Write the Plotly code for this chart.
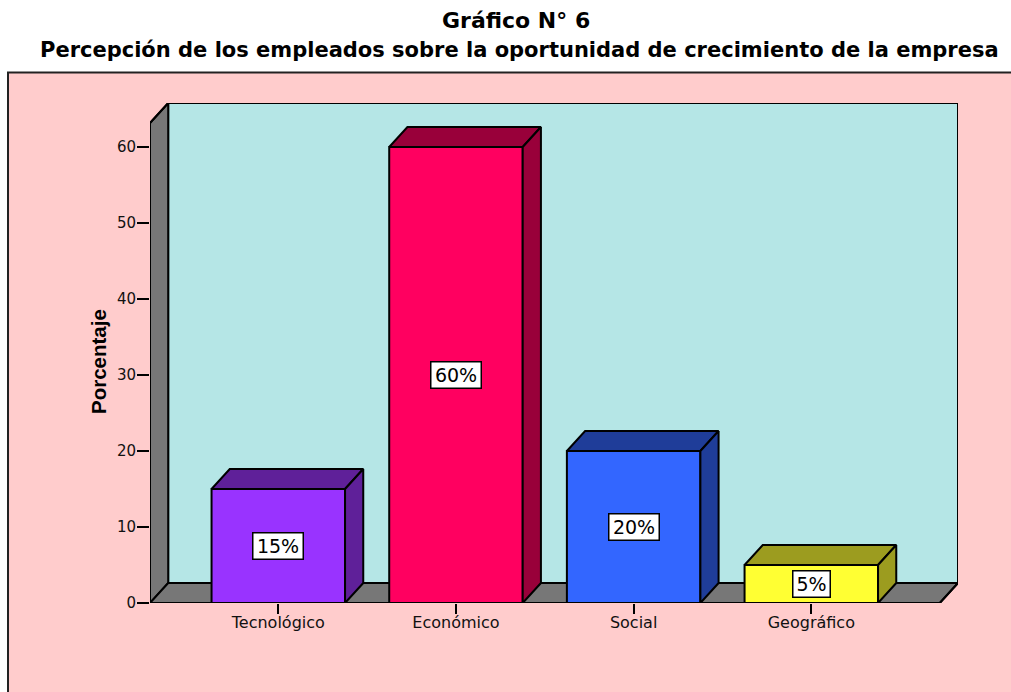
import plotly.graph_objects as go

categories = ["Tecnológico", "Económico", "Social", "Geográfico"]
values = [15, 60, 20, 5]
labels = ["15%", "60%", "20%", "5%"]
front_colors = ["#9933FF", "#FF0060", "#3366FF", "#FFFF33"]
shade_colors = ["#5F2099", "#99003A", "#1F3D99", "#9C9C1F"]
y_ticks = [0, 10, 20, 30, 40, 50, 60]

W, H = 1011, 692
PX_L, PX_R, PX_B, PX_T = 150, 958, 603, 103
PX_C0, PX_STEP = 278.3, 177.67
PX_UNIT = 7.6
DX = 18.2 / PX_STEP
DY = 20 / PX_UNIT
BW = 133.5 / PX_STEP
xmin = (PX_L - PX_C0) / PX_STEP
xmax = (PX_R - PX_C0) / PX_STEP
ymax = (PX_B - PX_T) / PX_UNIT
positions = list(range(len(categories)))


def path(pts):
    return "M " + " L ".join(f"{x},{y}" for x, y in pts) + " Z"


LINE = dict(color="black", width=2)
shapes = [
    dict(type="rect", xref="paper", yref="paper", x0=8 / W, x1=1.01, y0=-0.01, y1=1 - 72.5 / H,
         fillcolor="#FFCCCC", line=dict(color="#222222", width=2), layer="below"),
    dict(type="rect", xref="x", yref="y", x0=xmin + DX, x1=xmax, y0=DY, y1=ymax,
         fillcolor="#B5E6E6", line=LINE, layer="below"),
    dict(type="path", xref="x", yref="y", layer="below", fillcolor="#777777", line=LINE,
         path=path([(xmin, 0), (xmin + DX, DY), (xmin + DX, ymax), (xmin, ymax - DY)])),
    dict(type="path", xref="x", yref="y", layer="below", fillcolor="#777777", line=LINE,
         path=path([(xmin, 0), (xmin + DX, DY), (xmax, DY), (xmax - DX, 0)])),
]

fig = go.Figure()
fig.add_trace(go.Bar(x=positions, y=values, width=BW, marker=dict(color=front_colors, line=LINE),
                     hoverinfo="skip", showlegend=False))
for p, v, c in zip(positions, values, shade_colors):
    x0, x1 = p - BW / 2, p + BW / 2
    top = [(x0, v), (x0 + DX, v + DY), (x1 + DX, v + DY), (x1, v), (x0, v)]
    side = [(x1, 0), (x1 + DX, DY), (x1 + DX, v + DY), (x1, v), (x1, 0)]
    for pts in (top, side):
        fig.add_trace(go.Scatter(x=[a for a, _ in pts], y=[b for _, b in pts], mode="lines",
                                 fill="toself", fillcolor=c, line=LINE,
                                 hoverinfo="skip", showlegend=False))

# Outer outline of the box, unclipped so its edges keep their full width
frame_x = [xmin + DX, xmin, xmin, xmax - DX, xmax, xmax, xmin + DX]
frame_y = [ymax, ymax - DY, 0, 0, DY, ymax, ymax]
fig.add_trace(go.Scatter(x=frame_x, y=frame_y, mode="lines", line=LINE, cliponaxis=False,
                         hoverinfo="skip", showlegend=False))

annotations = [
    dict(x=p, y=v / 2, xref="x", yref="y", text=t, showarrow=False,
         width=49 if len(t) > 2 else 36, height=25,
         font=dict(family="DejaVu Sans", size=19, color="black"),
         bgcolor="white", bordercolor="black", borderwidth=1.5, borderpad=0)
    for p, v, t in zip(positions, values, labels)
]
annotations += [
    dict(x=516 / W, y=1 - 20 / H, xref="paper", yref="paper", text="<b>Gráfico N° 6</b>", showarrow=False,
         xanchor="center", yanchor="middle",
         font=dict(family="DejaVu Sans", size=22, color="black")),
    dict(x=519 / W, y=1 - 50 / H, xref="paper", yref="paper",
         text="<b>Percepción de los empleados sobre la oportunidad de crecimiento de la empresa</b>",
         showarrow=False, xanchor="center", yanchor="middle",
         font=dict(family="DejaVu Sans", size=21, color="black")),
    dict(x=98 / W, y=1 - 362 / H, xref="paper", yref="paper", text="<b>Porcentaje</b>", textangle=-90,
         showarrow=False, xanchor="center", yanchor="middle",
         font=dict(family="Liberation Sans", size=20.5, color="black")),
]

fig.update_layout(
    width=W, height=H, margin=dict(l=0, r=0, t=0, b=0, autoexpand=False), paper_bgcolor="white",
    plot_bgcolor="rgba(0,0,0,0)", shapes=shapes, annotations=annotations, showlegend=False,
    xaxis=dict(domain=[PX_L / W, PX_R / W], range=[xmin, xmax], tickmode="array", tickvals=positions,
               ticktext=categories, ticks="outside", ticklen=10, tickwidth=2, tickcolor="black",
               ticklabelstandoff=-5, showgrid=False, zeroline=False, showline=False,
               tickfont=dict(family="DejaVu Sans", size=16, color="#111111")),
    yaxis=dict(domain=[1 - PX_B / H, 1 - PX_T / H], range=[0, ymax], tickmode="array", tickvals=y_ticks,
               ticks="outside", ticklen=12, tickwidth=2, tickcolor="black", ticklabelstandoff=-2,
               showgrid=False, zeroline=False, showline=False,
               tickfont=dict(family="DejaVu Sans", size=15, color="#111111")),
)
fig.write_html("out.html", config=dict(displayModeBar=False),
               post_script="document.body.style.margin='0';document.body.style.overflow='hidden';")
